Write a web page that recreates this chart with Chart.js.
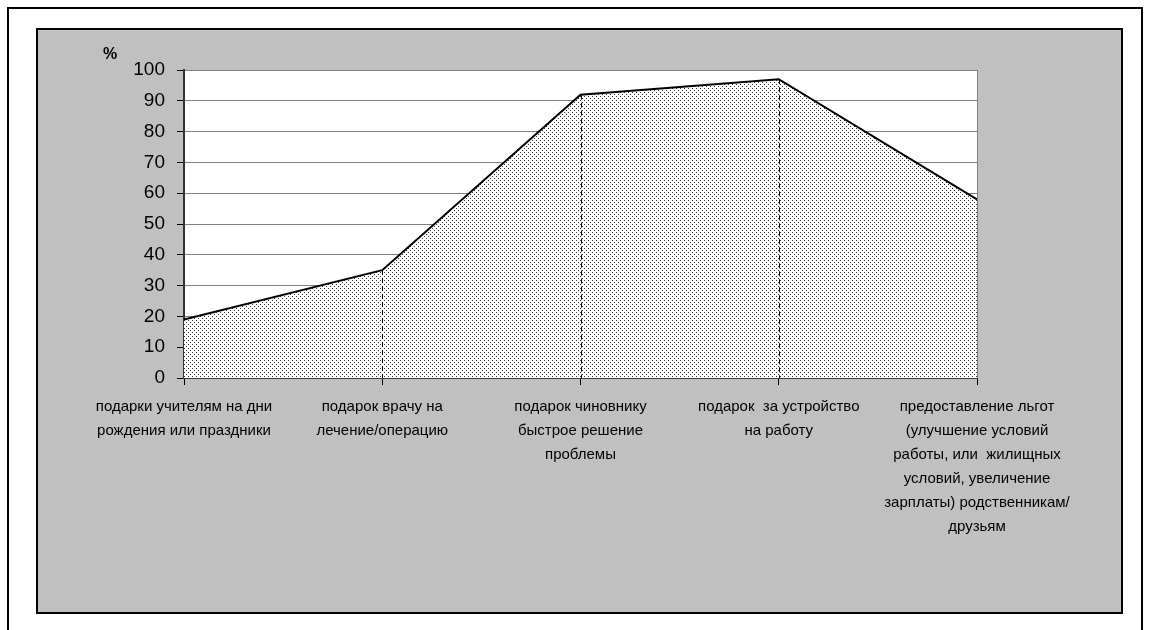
<!DOCTYPE html>
<html>
<head>
<meta charset="utf-8">
<script src="https://cdn.jsdelivr.net/npm/chart.js@4/dist/chart.umd.min.js"></script>
<style>
  body { margin: 0; background: #fff; width: 1149px; height: 630px; overflow: hidden; position: relative; }
  #frame { position: absolute; left: 7px; top: 7px; width: 1132px; height: 640px; border: 2px solid #000; }
  #box { position: absolute; left: 36px; top: 28px; width: 1083px; height: 582px; border: 2px solid #000; background: #c0c0c0; }
  #box canvas { display: block; }
</style>
</head>
<body>
<div id="frame"></div>
<div id="box"><canvas id="myChart" width="1083" height="582"></canvas></div>
<script>
// категории (подписи по оси X)
const categories = [
    ['подарки учителям на дни', 'рождения или праздники'],
    ['подарок врачу на', 'лечение/операцию'],
    ['подарок чиновнику', 'быстрое решение', 'проблемы'],
    ['подарок  за устройство', 'на работу'],
    ['предоставление льгот', '(улучшение условий', 'работы, или  жилищных', 'условий, увеличение', 'зарплаты) родственникам/', 'друзьям']
]
// значения, %
const values = [19, 35, 92, 97, 58]
const yTicksMin = 0, yTicksMax = 100, yTicksStep = 10
const yUnit = '%'

// точечная заливка
function dotPattern() {
    const c = document.createElement('canvas')
    c.width = 4
    c.height = 4
    const g = c.getContext('2d')
    g.fillStyle = '#fff'
    g.fillRect(0, 0, 4, 4)
    g.fillStyle = '#333'
    g.fillRect(0, 0, 1, 1)
    g.fillRect(2, 2, 1, 1)
    return g.createPattern(c, 'repeat')
}

// белый фон области построения + рамка + вертикальные пунктиры + знак %
const plotDecor = {
    id: 'plotDecor',
    beforeDraw(chart) {
        const a = chart.chartArea, ctx = chart.ctx
        ctx.save()
        ctx.fillStyle = '#fff'
        ctx.fillRect(a.left, a.top, a.right - a.left, a.bottom - a.top)
        ctx.restore()
    },
    afterDatasetsDraw(chart) {
        const a = chart.chartArea, ctx = chart.ctx
        const x = chart.scales.x, y = chart.scales.y
        ctx.save()
        ctx.strokeStyle = '#808080'
        ctx.lineWidth = 1
        ctx.beginPath()
        ctx.moveTo(a.right + 0.5, a.top)
        ctx.lineTo(a.right + 0.5, a.bottom)
        ctx.stroke()
        ctx.strokeStyle = '#000'
        ctx.setLineDash([5, 3])
        ctx.lineWidth = 1
        for (let i = 1; i < values.length - 1; i++) {
            const px = Math.round(x.getPixelForValue(i)) + 0.5
            ctx.beginPath()
            ctx.moveTo(px, y.getPixelForValue(values[i]))
            ctx.lineTo(px, y.getPixelForValue(0))
            ctx.stroke()
        }
        ctx.setLineDash([])
        ctx.fillStyle = '#000'
        ctx.font = 'bold 16px "Liberation Sans", Arial, sans-serif'
        ctx.textAlign = 'center'
        ctx.textBaseline = 'middle'
        ctx.fillText(yUnit, 72, 25)
        ctx.restore()
    }
}

const ctx = document.getElementById('myChart').getContext('2d')
const myChart = new Chart(ctx, {
    type: 'line',
    data: {
        labels: categories,
        datasets: [{
            data: values,
            borderColor: '#000',
            borderWidth: 2,
            backgroundColor: dotPattern(),
            fill: 'origin',
            tension: 0,
            pointRadius: 0
        }]
    },
    options: {
        responsive: false,
        animation: false,
        layout: { padding: { top: 40, right: 144, left: 0, bottom: 0 } },
        plugins: {
            legend: { display: false },
            tooltip: { enabled: false }
        },
        scales: {
            x: {
                offset: false,
                grid: { drawOnChartArea: false, drawTicks: true, tickLength: 7, tickColor: '#000' },
                border: { color: '#000', width: 1.5 },
                ticks: {
                    maxRotation: 0,
                    autoSkip: false,
                    padding: 10,
                    color: '#000',
                    font: { family: '"Liberation Sans", Arial, sans-serif', size: 15, lineHeight: 1.6 }
                },
                afterFit(scale) { scale.height = 234 }
            },
            y: {
                min: yTicksMin,
                max: yTicksMax,
                grid: { color: '#808080', tickColor: '#000', tickLength: 7 },
                border: { color: '#333', width: 2 },
                ticks: {
                    stepSize: yTicksStep,
                    padding: 12,
                    color: '#000',
                    font: { family: '"Liberation Sans", Arial, sans-serif', size: 19 }
                },
                afterFit(scale) { scale.width = 146 }
            }
        }
    },
    plugins: [plotDecor]
})
</script>
</body>
</html>
